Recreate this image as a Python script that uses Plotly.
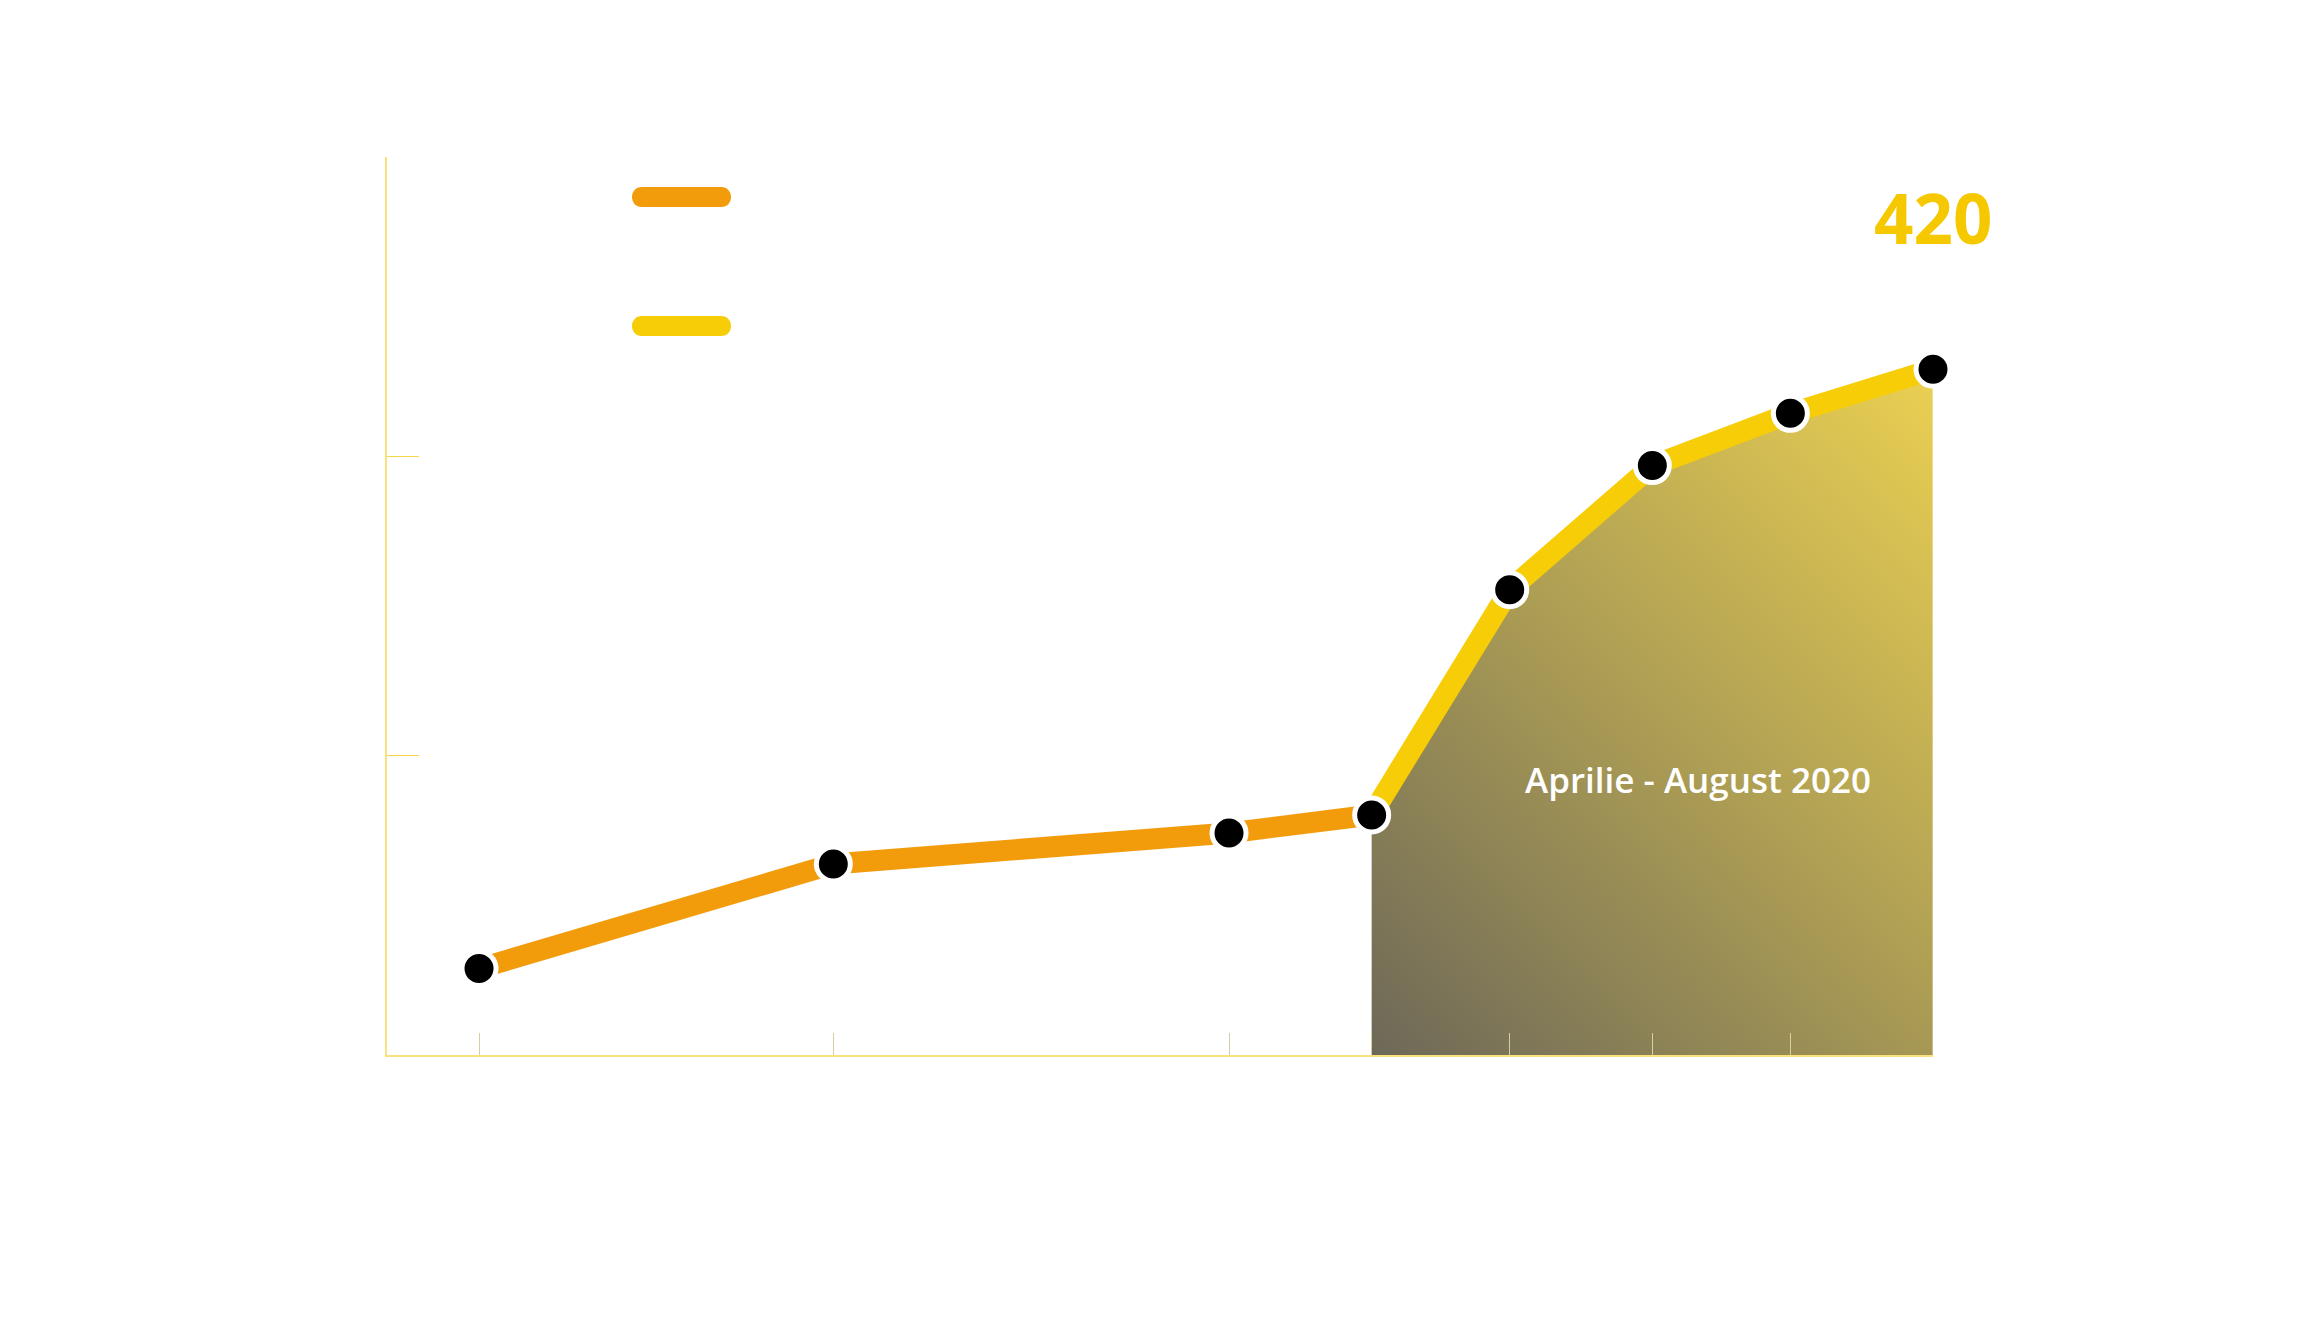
import numpy as np
import pandas as pd
import plotly.graph_objects as go

# ---- data ----
dates = ["2019-09-20", "2019-12-06", "2020-03-01", "2020-04-01",
         "2020-05-01", "2020-06-01", "2020-07-01", "2020-08-01"]
values = [53, 117, 136, 147, 285, 361, 393, 420]
highlight_start = 3          # index where the highlighted period starts
highlight_label = "Aprilie - August 2020"
y_ticks = [0, 550 / 3, 1100 / 3, 550]
x_range = ["2019-08-31", "2020-08-01"]
y_range = [0, 550]

ORANGE = "#f29b0b"
YELLOW = "#f7cd07"

OFF = 8                       # page body margin
W, H = 2303 - 2 * OFF, 1337 - 2 * OFF
PW, PH = 1546, 898
ML, MT = 387 - OFF, 157 - OFF
MR, MB = W - ML - PW, H - MT - PH

fig = go.Figure()

# ---- gradient fill below the highlighted segment (heatmap + white mask) ----
hd = [pd.Timestamp(d) for d in dates[highlight_start:]]
hv = values[highlight_start:]
N, M = 120, 120
t0, t1 = hd[0].value, hd[-1].value
x_edges = pd.to_datetime(np.linspace(t0, t1, N + 1))
y_edges = np.linspace(0, max(hv), M + 1)
xr0, xr1 = pd.Timestamp(x_range[0]).value, pd.Timestamp(x_range[1]).value
w_px = PW * (t1 - t0) / (xr1 - xr0)
h_px = PH * max(hv) / (y_range[1] - y_range[0])
xc = (np.arange(N) + 0.5) / N
yc = (np.arange(M) + 0.5) / M
XX, YY = np.meshgrid(xc, yc)
Z = (XX * w_px + YY * h_px) / (w_px + h_px)
fig.add_trace(go.Heatmap(
    x=x_edges, y=y_edges, z=Z, zmin=0, zmax=1, zsmooth="best",
    colorscale=[[0, "#6d6858"], [0.5, "#ad9e54"], [1, "#ebd052"]],
    showscale=False, hoverinfo="skip"))
pad = hd[0] - pd.Timedelta(days=4)
fig.add_trace(go.Scatter(
    x=[pad] + hd + [hd[-1], pad],
    y=[hv[0]] + list(hv) + [y_range[1], y_range[1]],
    fill="toself", fillcolor="white", mode="none",
    hoverinfo="skip", showlegend=False))

# ---- lines ----
fig.add_trace(go.Scatter(
    x=dates[:highlight_start + 1], y=values[:highlight_start + 1],
    mode="lines", line=dict(color=ORANGE, width=21),
    showlegend=False, hoverinfo="skip"))
fig.add_trace(go.Scatter(
    x=dates[highlight_start:], y=values[highlight_start:],
    mode="lines", line=dict(color=YELLOW, width=21),
    showlegend=False, hoverinfo="skip", cliponaxis=False))
# ---- markers ----
fig.add_trace(go.Scatter(
    x=dates, y=values, mode="markers",
    marker=dict(size=34, color="black", line=dict(color="white", width=5)),
    showlegend=False, cliponaxis=False))

# ---- annotations ----
fig.add_annotation(
    x=dates[-1], y=values[-1], text=f"<b>{values[-1]}</b>", showarrow=False,
    xanchor="center", yanchor="middle",
    yshift=152, font=dict(family="Open Sans", size=69, color="#f5c800"))
fig.add_annotation(
    xref="paper", yref="paper", x=(1698 - 387) / PW, y=(1055 - 779) / PH,
    xanchor="center", yanchor="middle",
    text=highlight_label, showarrow=False,
    font=dict(family="Open Sans", size=35, color="white", weight=600))

# ---- legend swatches (rounded bars) ----
def pill(color, ypaper):
    r = 10
    L = 99
    k = 4 / 3 * r
    path = (f"M {r},{-r} L {L - r},{-r} C {L - r + k},{-r} {L - r + k},{r} {L - r},{r} "
            f"L {r},{r} C {r - k},{r} {r - k},{-r} {r},{-r} Z")
    fig.add_shape(type="path", xref="paper", yref="paper",
                  xsizemode="pixel", ysizemode="pixel",
                  xanchor=(632 - 387) / PW, yanchor=ypaper,
                  path=path, fillcolor=color, line=dict(width=0))

pill(ORANGE, (1055 - 197) / PH)
pill(YELLOW, (1055 - 326) / PH)

fig.update_layout(
    width=W, height=H,
    margin=dict(l=ML, r=MR, t=MT, b=MB),
    paper_bgcolor="white", plot_bgcolor="white",
    showlegend=False,
    xaxis=dict(range=x_range, type="date", showgrid=False, zeroline=False,
               showline=True, linecolor="#fbe27e", linewidth=1.5,
               ticks="inside", ticklen=22, tickcolor="#d8cf9e", tickwidth=1,
               tickvals=dates, showticklabels=False),
    yaxis=dict(range=y_range, showgrid=False, zeroline=False,
               showline=True, linecolor="#fbe27e", linewidth=1.5,
               ticks="inside", ticklen=32, tickcolor="#f7d84a", tickwidth=1,
               tickvals=y_ticks, showticklabels=False),
)

fig.write_html("out.html")
